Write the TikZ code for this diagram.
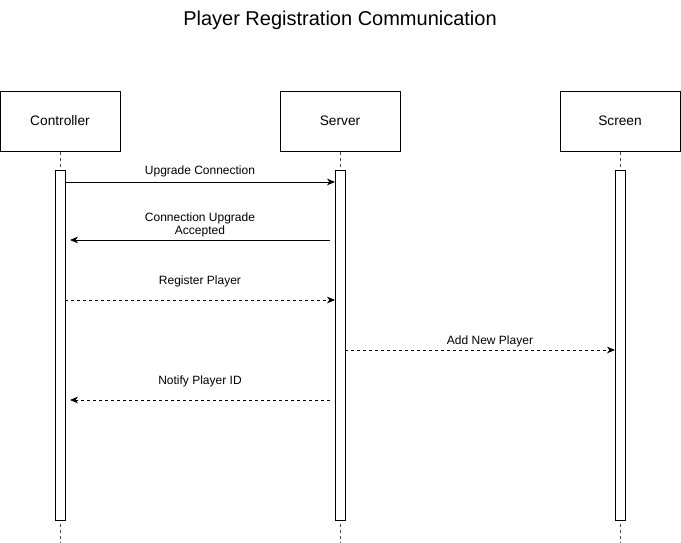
\documentclass[tikz,border=0pt]{standalone}
\usepackage{fontspec}
\setmainfont{Liberation Sans}
\usetikzlibrary{arrows.meta}
\begin{document}
\begin{tikzpicture}[x=0.75pt,y=-0.75pt,
  actor/.style={draw=black,line width=0.75pt,fill=white,minimum width=90pt,minimum height=45pt,inner sep=0pt,font=\fontsize{10.3}{12}\selectfont},
  bar/.style={draw=black,line width=0.75pt,fill=white,minimum width=7.5pt,minimum height=262.5pt,inner sep=0pt},
  life/.style={draw=black!70,line width=0.75pt,dash pattern=on 2.25pt off 2.25pt},
  msg/.style={draw=black,line width=0.6pt,-{Stealth[length=6pt,width=5pt,inset=1.8pt]}},
  dmsg/.style={msg,dash pattern=on 2.25pt off 2.25pt},
  lbl/.style={font=\fontsize{9}{10.2}\selectfont,align=center,inner sep=0pt}]
\useasboundingbox (0,0) rectangle (681,542);
\node[font=\fontsize{15}{18}\selectfont] (title) at (340,20) {Player Registration Communication};
% lifelines
\coordinate (cb) at (60,542);
\coordinate (sb) at (340,542);
\coordinate (rb) at (620,542);
\node[actor] (ctrl) at (60,121) {Controller};
\node[actor] (srv) at (340,121) {Server};
\node[actor] (scr) at (620,121) {Screen};
\draw[life] (ctrl.south) -- (cb);
\draw[life] (srv.south) -- (sb);
\draw[life] (scr.south) -- (rb);
\node[bar] (cbar) at (60,345) {};
\node[bar] (sbar) at (340,345) {};
\node[bar] (rbar) at (620,345) {};
% message end points
\coordinate (m1a) at (65,182);  \coordinate (m1b) at (335,182);
\coordinate (m2a) at (330,240); \coordinate (m2b) at (70,240);
\coordinate (m3a) at (65,300);  \coordinate (m3b) at (335,300);
\coordinate (m4a) at (345,350); \coordinate (m4b) at (615,350);
\coordinate (m5a) at (330,400); \coordinate (m5b) at (70,400);
\draw[msg] (m1a) -- (m1b);
\draw[msg] (m2a) -- (m2b);
\draw[dmsg] (m3a) -- (m3b);
\draw[dmsg] (m4a) -- (m4b);
\draw[dmsg] (m5a) -- (m5b);
\node[lbl] (l1) at (200,171) {Upgrade Connection};
\node[lbl] (l2) at (200,225) {Connection Upgrade\\Accepted};
\node[lbl] (l3) at (200,281) {Register Player};
\node[lbl] (l4) at (490,341) {Add New Player};
\node[lbl] (l5) at (200,381) {Notify Player ID};
\end{tikzpicture}
\end{document}
